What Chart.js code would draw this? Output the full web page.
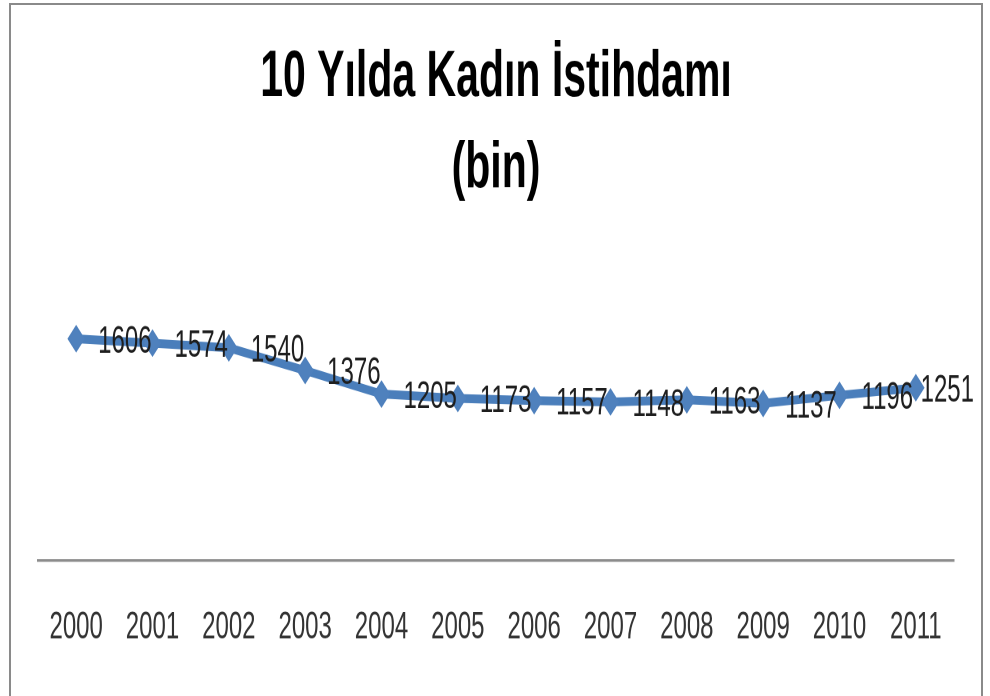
<!DOCTYPE html>
<html>
<head>
<meta charset="utf-8">
<script src="https://cdn.jsdelivr.net/npm/chart.js@4.4.0/dist/chart.umd.min.js"></script>
<style>
  html, body { margin: 0; padding: 0; background: #fff; overflow: hidden; }
  /* the reference is stretched vertically, so the chart is drawn short and scaled */
  #frame { position: absolute; left: 0; top: 0; width: 990px; height: 435px; transform: scaleY(1.6); transform-origin: 0 0; }
  #border { position: absolute; left: 9px; top: 3px; width: 970px; height: 720px; border: 2px solid #8a8a8a; pointer-events: none; }
</style>
</head>
<body>
<div id="frame"><canvas id="myChart"></canvas></div>
<div id="border"></div>
<script>
(function () {
  'use strict'

  // data
  var years = ['2000', '2001', '2002', '2003', '2004', '2005', '2006', '2007', '2008', '2009', '2010', '2011']
  var employment = [1606, 1574, 1540, 1376, 1205, 1173, 1157, 1148, 1163, 1137, 1196, 1251]
  var titleLines = ['10 Yılda Kadın İstihdamı', '(bin)']

  var fontFamily = '"Liberation Sans", Arial, sans-serif'

  // value labels to the right of each point
  var pointLabels = {
    id: 'pointLabels',
    afterDatasetsDraw: function (chart) {
      var ctx = chart.ctx
      var meta = chart.getDatasetMeta(0)
      ctx.save()
      ctx.font = '24px ' + fontFamily
      ctx.fillStyle = '#1e1e1e'
      ctx.textAlign = 'left'
      ctx.textBaseline = 'middle'
      meta.data.forEach(function (pt, i) {
        var txt = String(chart.data.datasets[0].data[i])
        var w = ctx.measureText(txt).width
        var x = pt.x + 22
        if (x + w > chart.width - 16) x = chart.width - 16 - w
        ctx.fillText(txt, x, pt.y + 2)
      })
      ctx.restore()
    }
  }

  var ctx = document.getElementById('myChart')
  var config = {
    type: 'line',
    data: {
      labels: years,
      datasets: [{
        label: 'Kadın İstihdamı',
        data: employment,
        lineTension: 0,
        borderColor: '#4a7ebb',
        borderWidth: 5.5,
        backgroundColor: '#4f81bd',
        pointStyle: 'rectRot',
        pointRadius: 8,
        pointBorderWidth: 1,
        pointBorderColor: '#4f81bd',
        pointBackgroundColor: '#4f81bd'
      }]
    },
    options: {
      responsive: true,
      maintainAspectRatio: false,
      devicePixelRatio: 2,
      animation: false,
      layout: {
        padding: { left: 38, right: 36, top: 0, bottom: 0 }
      },
      scales: {
        x: {
          offset: true,
          grid: { display: false, drawTicks: false },
          border: { display: true, color: '#8c8c8c', width: 1.6 },
          ticks: {
            padding: 28,
            color: '#333',
            maxRotation: 0,
            autoSkip: false,
            font: { family: fontFamily, size: 24 }
          }
        },
        y: {
          display: false,
          min: 0,
          max: 1800
        }
      },
      plugins: {
        legend: { display: false },
        tooltip: { enabled: false },
        title: {
          display: true,
          text: titleLines,
          color: '#000',
          font: { family: fontFamily, size: 41, weight: 'bold', lineHeight: 1.39 },
          padding: { top: 20, bottom: 61 }
        }
      }
    },
    plugins: [pointLabels]
  }
  var lineChart = new Chart(ctx, config)

})()
</script>
</body>
</html>
